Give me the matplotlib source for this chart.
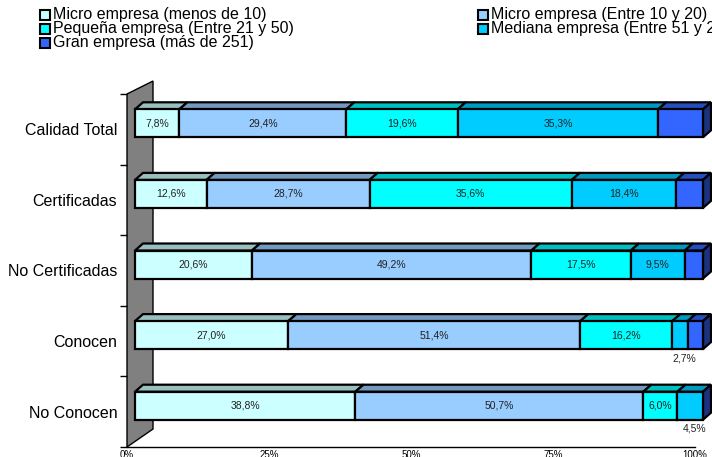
import numpy as np
import matplotlib
matplotlib.use('Agg')
import matplotlib.pyplot as plt
from matplotlib.patches import Rectangle, Polygon
from matplotlib.colors import to_rgb

plt.rcParams['font.family'] = ['Liberation Sans', 'DejaVu Sans']

# ---------------------------------------------------------------- data
categories = ['Calidad Total', 'Certificadas', 'No Certificadas', 'Conocen', 'No Conocen']
micro_10 = [7.8, 12.6, 20.6, 27.0, 38.8]
micro_20 = [29.4, 28.7, 49.2, 51.4, 50.7]
pequena = [19.6, 35.6, 17.5, 16.2, 6.0]
mediana = [35.3, 18.4, 9.5, 2.7, 4.5]
gran = [7.9, 4.7, 3.2, 2.7, 0.0]

series_names = ['Micro empresa (menos de 10)', 'Micro empresa (Entre 10 y 20)',
                'Pequeña empresa (Entre 21 y 50)', 'Mediana empresa (Entre 51 y 250)',
                'Gran empresa (más de 251)']
x_ticks = [0, 25, 50, 75, 100]
x_ticklabels = ['0%', '25%', '50%', '75%', '100%']

# ---------------------------------------------------------------- style
front_cols = ['#CCFFFF', '#99CCFF', '#00FFFF', '#00CCFF', '#3366FF']
labelled = [True, True, True, True, False]   # no labels on the big-company series
edge_lw = 1.6


def shade(c, f):
    return tuple(v * f for v in to_rgb(c))


W, H, DPI = 712, 457, 100
fig = plt.figure(figsize=(W / DPI, H / DPI), dpi=DPI)

# plot area: front plane of the floor/wall, in pixels
x0_px, x1_px = 127, 695
y0_px, y1_px = 447, 94
ax = fig.add_axes([x0_px / W, (H - y0_px) / H, (x1_px - x0_px) / W, (y0_px - y1_px) / H])
ax.set_xlim(0, 100)
ax.set_ylim(0, len(categories))

px_x = 100 / (x1_px - x0_px)           # data units per pixel
px_y = len(categories) / (y0_px - y1_px)

# 3d offsets
bdx, bdy = 8 * px_x, 7 * px_y          # bar depth
wdx = 26 * px_x                        # wall depth
wdy_bot, wdy_top = 18 * px_y, 13 * px_y
bar_h = 28 * px_y

# back wall
wall = Polygon([(0, 0), (wdx, wdy_bot), (wdx, len(categories) + wdy_top),
                (0, len(categories))], closed=True, facecolor='#808080',
               edgecolor='black', lw=1, clip_on=False, zorder=1)
ax.add_patch(wall)

data = np.array([micro_10, micro_20, pequena, mediana, gran])
n = len(categories)
for i, cat in enumerate(categories):
    yc = n - 0.5 - i
    y_bot = yc - bar_h / 2 + 6 * px_y
    y_top = y_bot + bar_h
    left = 0.0
    for j in range(data.shape[0]):
        w = data[j, i]
        if w <= 0:
            continue
        xl = left + bdx
        top = Polygon([(xl, y_top), (xl + bdx, y_top + bdy),
                       (xl + w + bdx, y_top + bdy), (xl + w, y_top)],
                      closed=True, facecolor=shade(front_cols[j], 0.75),
                      edgecolor='black', lw=edge_lw, clip_on=False, zorder=3)
        ax.add_patch(top)
        front = Rectangle((xl, y_bot), w, bar_h, facecolor=front_cols[j],
                          edgecolor='black', lw=edge_lw, clip_on=False, zorder=4)
        ax.add_patch(front)
        if labelled[j]:
            txt = ('%.1f%%' % w).replace('.', ',')
            if w >= 5:
                ax.text(xl + w / 2, y_bot + bar_h / 2, txt, ha='center', va='center',
                        fontsize=7.5, color='#222222', zorder=6)
            else:
                ax.text(xl + w / 2 + 4 * px_x, y_bot - 9 * px_y, txt, ha='center',
                        va='center', fontsize=7.5, color='#222222', zorder=6)
        left += w
    # side face at the right end of the bar
    xr = left + bdx
    side = Polygon([(xr, y_bot), (xr + bdx, y_bot + bdy), (xr + bdx, y_top + bdy),
                    (xr, y_top)], closed=True, facecolor=shade(front_cols[-1], 0.5),
                   edgecolor='black', lw=edge_lw, clip_on=False, zorder=3)
    ax.add_patch(side)

# axes
for s in ['top', 'right', 'left']:
    ax.spines[s].set_visible(False)
ax.spines['bottom'].set_linewidth(1)
ax.set_yticks(np.arange(n + 1))
ax.set_yticklabels([])
ax.set_yticks(np.arange(n) + 0.5, minor=True)
ax.set_yticklabels(categories[::-1], minor=True, fontsize=11.5)
ax.tick_params(axis='y', which='major', length=5, width=1, direction='out')
ax.tick_params(axis='y', which='minor', length=0, pad=7)
ax.set_xticks(x_ticks)
ax.set_xticklabels(x_ticklabels, fontsize=7)
ax.tick_params(axis='x', length=0, pad=2)
ax.patch.set_visible(False)

# legend, two columns, filled row by row
leg_x = [40, 478]
leg_y = [15, 29, 43]
box = 10
for k, name in enumerate(series_names):
    col, row = k % 2, k // 2
    bx, by = leg_x[col], leg_y[row]
    fig.patches.append(Rectangle(((bx) / W, (H - by - box / 2) / H), box / W, box / H,
                                 transform=fig.transFigure, facecolor=front_cols[k],
                                 edgecolor='black', lw=1.5))
    fig.text((bx + box + 3) / W, (H - by) / H, name, ha='left', va='center',
             fontsize=11.5)

fig.savefig('out.png', dpi=DPI)
